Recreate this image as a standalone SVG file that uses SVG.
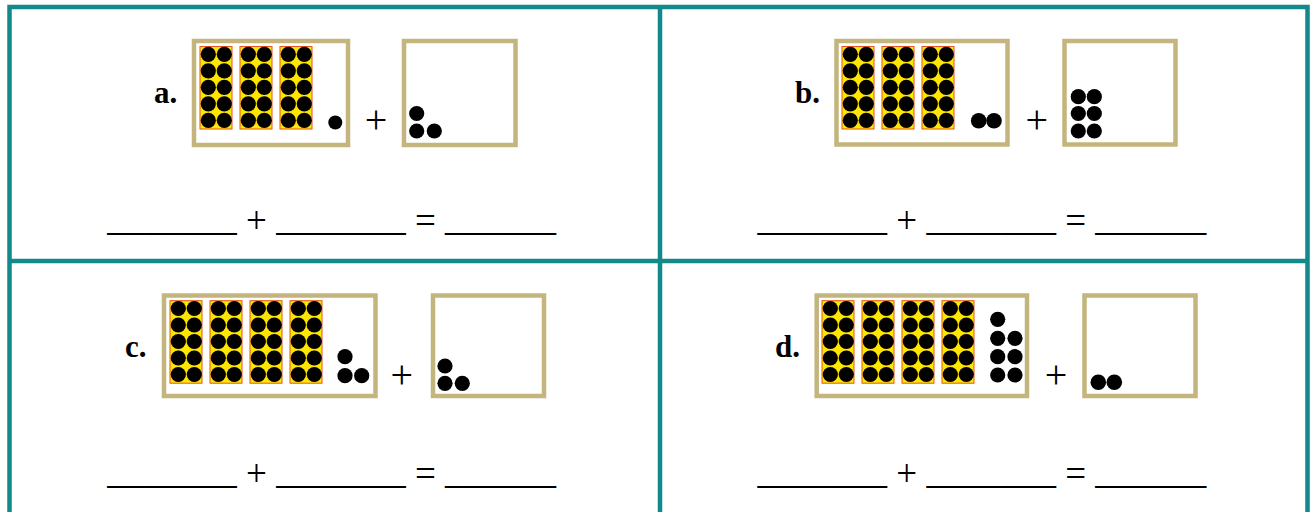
<svg xmlns="http://www.w3.org/2000/svg" xmlns:xlink="http://www.w3.org/1999/xlink" width="1312" height="512" viewBox="0 0 1312 512">
<style>
.grid{fill:none;stroke:#12898a;stroke-width:4.5}
.box{fill:#fff;stroke:#c4b47e;stroke-width:4.5}
.tf{fill:#ffe600;stroke:#e4561c;stroke-width:1}
.dot{fill:#000}
.lbl{font-family:"Liberation Serif","Times New Roman",serif;font-weight:bold;font-size:31px;fill:#000}
.plus{font-family:"Liberation Serif","Times New Roman",serif;font-size:40px;fill:#000;text-anchor:middle}
.eq{font-family:"Liberation Serif","Times New Roman",serif;font-size:37px;fill:#000}
</style>
<defs>
<g id="tenframe">
<rect class="tf" x="0" y="0" width="32" height="82.5"/>
<g class="dot">
<circle cx="8.3" cy="7.8" r="7.6"/><circle cx="24.3" cy="7.8" r="7.6"/>
<circle cx="8.3" cy="24.3" r="7.6"/><circle cx="24.3" cy="24.3" r="7.6"/>
<circle cx="8.3" cy="40.8" r="7.6"/><circle cx="24.3" cy="40.8" r="7.6"/>
<circle cx="8.3" cy="57.3" r="7.6"/><circle cx="24.3" cy="57.3" r="7.6"/>
<circle cx="8.3" cy="73.8" r="7.6"/><circle cx="24.3" cy="73.8" r="7.6"/>
</g>
</g>
</defs>
<rect width="1312" height="512" fill="#fff"/>
<g id="grid">
<rect class="grid" x="9.5" y="7" width="1298" height="530"/>
<line class="grid" x1="660" y1="7" x2="660" y2="512"/>
<line class="grid" x1="9.5" y1="261" x2="1307.5" y2="261"/>
</g>
<g id="panel-a">
<text class="lbl" x="154" y="103">a.</text>
<rect class="box" x="194" y="41" width="154" height="104"/>
<use xlink:href="#tenframe" x="200" y="46.5"/>
<use xlink:href="#tenframe" x="240" y="46.5"/>
<use xlink:href="#tenframe" x="280" y="46.5"/>
<circle class="dot" cx="335.3" cy="122.5" r="7"/>
<text class="plus" x="376" y="133">+</text>
<rect class="box" x="404" y="41" width="111.5" height="104"/>
<circle class="dot" cx="416.7" cy="113.5" r="7.6"/>
<circle class="dot" cx="416.7" cy="131" r="7.6"/>
<circle class="dot" cx="434.3" cy="131" r="7.6"/>
<text class="eq" x="107.3" y="229.5">_______ <tspan dy="3">+</tspan><tspan dy="-3"> _______ </tspan><tspan dy="3">=</tspan><tspan dy="-3"> ______</tspan></text>
</g>
<g id="panel-b">
<text class="lbl" x="795" y="103">b.</text>
<rect class="box" x="836.5" y="41" width="171" height="103.5"/>
<use xlink:href="#tenframe" x="842" y="46.5"/>
<use xlink:href="#tenframe" x="882" y="46.5"/>
<use xlink:href="#tenframe" x="922" y="46.5"/>
<circle class="dot" cx="978.7" cy="120.8" r="7.8"/>
<circle class="dot" cx="994" cy="120.8" r="7.8"/>
<text class="plus" x="1036.7" y="133">+</text>
<rect class="box" x="1064.5" y="41" width="111" height="103.5"/>
<circle class="dot" cx="1078.3" cy="96.7" r="7.6"/>
<circle class="dot" cx="1094.3" cy="96.7" r="7.6"/>
<circle class="dot" cx="1078.3" cy="113.5" r="7.6"/>
<circle class="dot" cx="1094.3" cy="113.5" r="7.6"/>
<circle class="dot" cx="1078.3" cy="131" r="7.6"/>
<circle class="dot" cx="1094.3" cy="131" r="7.6"/>
<text class="eq" x="757.5" y="229.5">_______ <tspan dy="3">+</tspan><tspan dy="-3"> _______ </tspan><tspan dy="3">=</tspan><tspan dy="-3"> ______</tspan></text>
</g>
<g id="panel-c">
<text class="lbl" x="125" y="357">c.</text>
<rect class="box" x="164" y="295.5" width="211.5" height="100.5"/>
<use xlink:href="#tenframe" x="170" y="300.7"/>
<use xlink:href="#tenframe" x="210" y="300.7"/>
<use xlink:href="#tenframe" x="250" y="300.7"/>
<use xlink:href="#tenframe" x="290" y="300.7"/>
<circle class="dot" cx="345" cy="356.7" r="7.6"/>
<circle class="dot" cx="345" cy="375.7" r="7.6"/>
<circle class="dot" cx="361.7" cy="375.7" r="7.6"/>
<text class="plus" x="401.7" y="388">+</text>
<rect class="box" x="433" y="295.5" width="111" height="100.5"/>
<circle class="dot" cx="445" cy="366" r="7.6"/>
<circle class="dot" cx="445" cy="383.3" r="7.6"/>
<circle class="dot" cx="462.3" cy="383.3" r="7.6"/>
<text class="eq" x="107.3" y="483">_______ <tspan dy="3">+</tspan><tspan dy="-3"> _______ </tspan><tspan dy="3">=</tspan><tspan dy="-3"> ______</tspan></text>
</g>
<g id="panel-d">
<text class="lbl" x="775" y="357">d.</text>
<rect class="box" x="816.7" y="295.5" width="210.3" height="100.5"/>
<use xlink:href="#tenframe" x="822" y="300.7"/>
<use xlink:href="#tenframe" x="862" y="300.7"/>
<use xlink:href="#tenframe" x="902" y="300.7"/>
<use xlink:href="#tenframe" x="942" y="300.7"/>
<circle class="dot" cx="997.7" cy="319.3" r="7.6"/>
<circle class="dot" cx="997.7" cy="338.3" r="7.6"/>
<circle class="dot" cx="1015" cy="338.3" r="7.6"/>
<circle class="dot" cx="997.7" cy="356.7" r="7.6"/>
<circle class="dot" cx="1015" cy="356.7" r="7.6"/>
<circle class="dot" cx="997.7" cy="375" r="7.6"/>
<circle class="dot" cx="1015" cy="375" r="7.6"/>
<text class="plus" x="1056" y="388">+</text>
<rect class="box" x="1084.5" y="295.5" width="111" height="100.5"/>
<circle class="dot" cx="1098.3" cy="382.3" r="7.8"/>
<circle class="dot" cx="1114.3" cy="382.3" r="7.8"/>
<text class="eq" x="757.5" y="483">_______ <tspan dy="3">+</tspan><tspan dy="-3"> _______ </tspan><tspan dy="3">=</tspan><tspan dy="-3"> ______</tspan></text>
</g>
</svg>
